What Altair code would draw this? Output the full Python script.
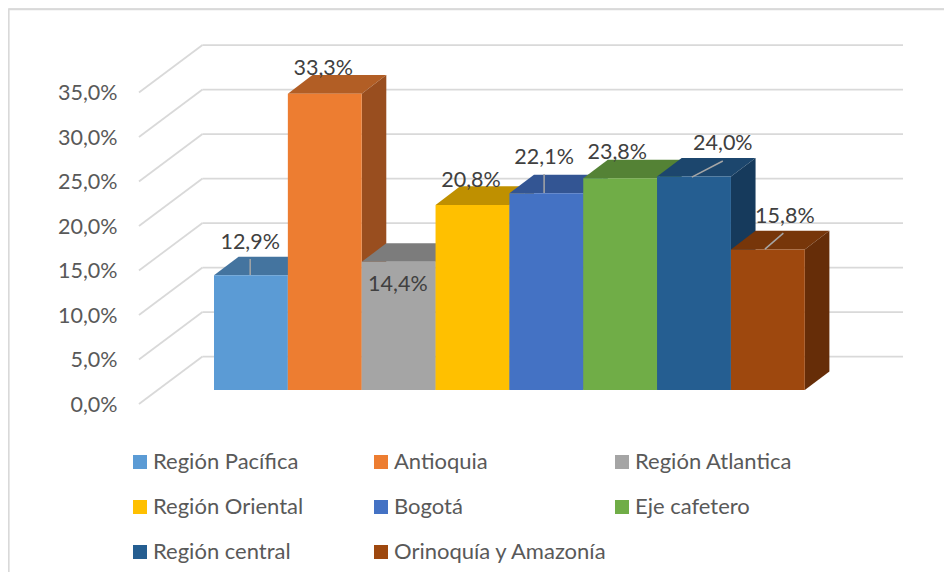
import altair as alt
import pandas as pd

names = ["Región Pacífica", "Antioquia", "Región Atlantica", "Región Oriental",
         "Bogotá", "Eje cafetero", "Región central", "Orinoquía y Amazonía"]
values = [12.9, 33.3, 14.4, 20.8, 22.1, 23.8, 24.0, 15.8]
labels = ["12,9%", "33,3%", "14,4%", "20,8%", "22,1%", "23,8%", "24,0%", "15,8%"]
front = ["#5B9BD5", "#ED7D31", "#A5A5A5", "#FFC000", "#4472C4", "#70AD47", "#255E91", "#9E480E"]
top = ["#44749F", "#B25E25", "#7C7C7C", "#BF9000", "#335593", "#548235", "#1C466D", "#77360A"]
side = ["#375F83", "#994E1F", "#666666", "#9E7700", "#2A467A", "#456B2C", "#163A5C", "#662D08"]
ticks = [0, 5, 10, 15, 20, 25, 30, 35]

# label anchors (slot units, value units)
label_x = [0.49, 1.48, 2.49, 3.48, 4.47, 5.46, 6.89, 7.73]
label_y = [18.2, 37.75, 13.5, 25.2, 27.75, 28.3, 29.3, 21.1]
leaders = [
    (0, 0.49, 16.3, 0.49, 14.5),
    (4, 4.47, 25.85, 4.47, 23.7),
    (6, 6.47, 25.5, 6.89, 27.3),
    (7, 7.46, 17.4, 7.71, 19.2),
]

# projection of the 3D box onto the plane
FRONT_DY = 1.573
BAR_DX = 0.333
BAR_DY = 2.08
WALL_DX = 0.86
WALL_DY = 5.337
AXIS_X = -1.016
WALL_R = 9.33

W, H = 936, 564
xs = alt.Scale(domain=[-206 / 73.85, (W - 206) / 73.85], nice=False, zero=False)
ys = alt.Scale(domain=[(396 - H) / 8.9, 396 / 8.9], nice=False, zero=False)
FONT = "Lato"
GRID = "#D9D9D9"
axis = alt.Axis(orient="left", offset=-109, domain=False, ticks=False, grid=False, title=None,
                values=ticks, labelPadding=0, labelFont=FONT, labelFontSize=21.5, labelColor="#595959",
                labelOffset=1,
                labelExpr="replace(format(datum.value,'.1f'),'.',',')+'%'")
X = lambda f="x": alt.X(f"{f}:Q", scale=xs, axis=None)
Y = lambda f="y": alt.Y(f"{f}:Q", scale=ys, axis=axis)

layers = []

# value axis + wall gridlines
diag = pd.DataFrame([{"t": t, "x": AXIS_X + k * WALL_DX, "y": t + k * WALL_DY} for t in ticks for k in (0, 1)])
layers.append(alt.Chart(diag).mark_line(color=GRID, strokeWidth=1.75).encode(x=X(), y=Y(), detail="t:N"))
wall = pd.DataFrame({"y": [t + WALL_DY for t in ticks], "x": AXIS_X + WALL_DX, "x2": WALL_R})
layers.append(alt.Chart(wall).mark_rule(color=GRID, strokeWidth=1.75).encode(x=X(), x2="x2:Q", y=Y()))

# chart frame
layers.append(alt.Chart(pd.DataFrame({"a": [0]})).mark_rule(color=GRID, strokeWidth=1.75).encode(
    x=alt.value(0.75), y=alt.value(1.5), y2=alt.value(H)))
layers.append(alt.Chart(pd.DataFrame({"a": [0]})).mark_rule(color=GRID, strokeWidth=1.5).encode(
    y=alt.value(1.5), x=alt.value(0), x2=alt.value(W)))

# bars, drawn left to right so that each one hides its neighbour's side
for i, (n, v) in enumerate(zip(names, values)):
    b = FRONT_DY
    t = v + FRONT_DY
    topdf = pd.DataFrame({"x": [i, i + BAR_DX], "x2": [i + 1, i + 1 + BAR_DX], "y": [t, t + BAR_DY]})
    layers.append(alt.Chart(topdf).mark_area(orient="horizontal", color=top[i]).encode(x=X(), x2="x2:Q", y=Y()))
    sidedf = pd.DataFrame({"x": [i + 1, i + 1 + BAR_DX], "y": [b, b + BAR_DY], "y2": [t, t + BAR_DY]})
    layers.append(alt.Chart(sidedf).mark_area(orient="vertical", color=side[i]).encode(x=X(), y=Y(), y2="y2:Q"))
    frontdf = pd.DataFrame({"name": [n], "x": [i], "x2": [i + 1], "y": [b], "y2": [t]})
    layers.append(alt.Chart(frontdf).mark_rect().encode(
        x=X(), x2="x2:Q", y=Y(), y2="y2:Q",
        color=alt.Color("name:N", scale=alt.Scale(domain=names, range=front), sort=names, legend=alt.Legend(
            orient="none", legendX=121, legendY=443, columns=3, direction="horizontal", gridAlign="all", title=None,
            symbolType="square", symbolSize=196, symbolStrokeWidth=0, symbolOpacity=1,
            labelFont=FONT, labelFontSize=22, labelColor="#595959", labelOffset=2,
            labelLimit=400, rowPadding=23, columnPadding=3, padding=0))))

# leader lines and data labels
lead = pd.DataFrame([{"k": k, "x": p[0], "y": p[1]} for k, a, b, c, d in leaders for p in ((a, b), (c, d))])
layers.append(alt.Chart(lead).mark_line(color="#A6A6A6", strokeWidth=1.5).encode(x=X(), y=Y(), detail="k:N"))
lab = pd.DataFrame({"x": label_x, "y": label_y, "t": labels})
layers.append(alt.Chart(lab).mark_text(font=FONT, fontSize=21.5, dy=1, color="#404040", align="center", baseline="middle").encode(
    x=X(), y=Y(), text="t:N"))

chart = alt.layer(*layers).properties(width=W, height=H, padding=0,
                                       autosize=alt.AutoSizeParams(type="none", contains="content")
                                       ).configure_view(stroke=None).configure(background="white")
chart.save("out.html", embed_options={"renderer": "svg", "actions": False})
